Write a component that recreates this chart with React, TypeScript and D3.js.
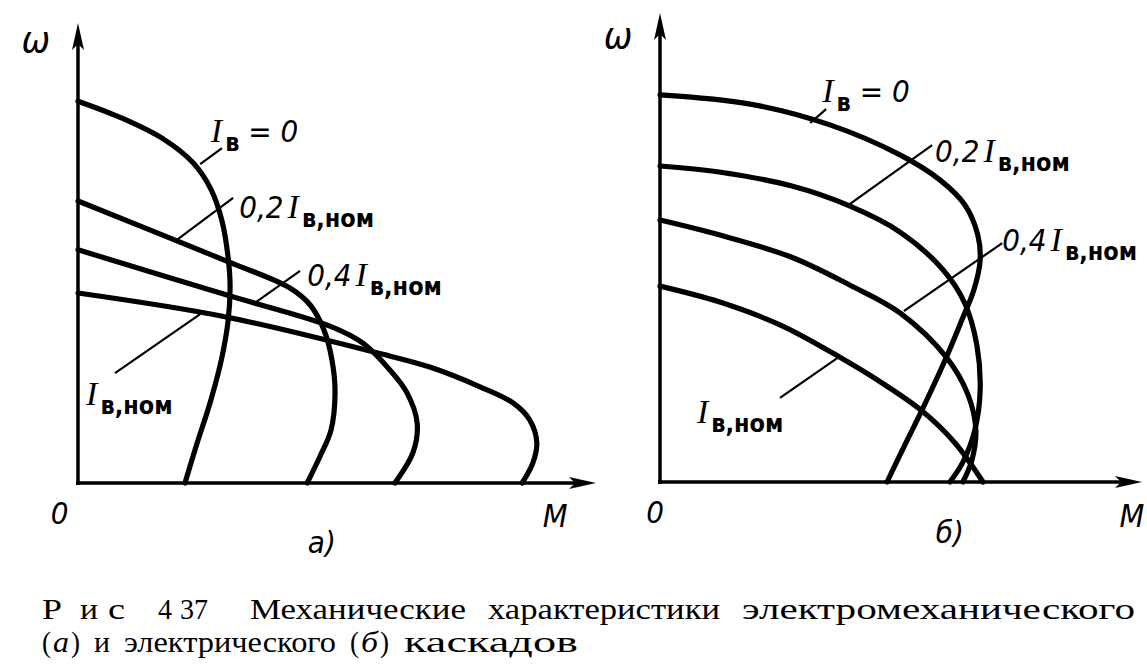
import { useEffect, useRef } from 'react';
import * as d3 from 'd3';

type Pt = [number, number];

// M (torque) and ω (speed), relative units 0..100

// panel а) — electromechanical cascade
const aZero: Pt[] = [
  [0, 83.0], [8.7, 79.3], [16.8, 74.8], [22.7, 69.6], [26.2, 63.9], [28.4, 57.0],
  [29.6, 49.1], [30.0, 42.8], [29.6, 35.2], [28.4, 27.4], [26.2, 18.0], [23.3, 8.0], [21.1, 0],
];
const aPoint2: Pt[] = [
  [0, 61.3], [29.2, 48.3], [41.8, 42.4], [45.8, 38.7], [48.5, 33.3], [50.1, 26.7],
  [50.7, 19.6], [49.9, 11.5], [47.7, 5.7], [45.2, 0],
];
const aPoint4: Pt[] = [
  [0, 50.7], [29.2, 40.9], [49.7, 34.1], [56.2, 30.4], [61.5, 24.6], [64.9, 19.6],
  [66.9, 13.0], [66.1, 6.7], [62.5, 0],
];
const aNom: Pt[] = [
  [0, 41.3], [29.2, 36.1], [59, 28.3], [69.4, 25.2], [79.3, 20.9], [85.8, 17.4],
  [89.1, 13.7], [90.5, 8.7], [89.7, 4.3], [87.6, 0],
];

// panel б) — electrical cascade
const bZero: Pt[] = [
  [0, 83.8], [18.8, 81.8], [35.4, 77.3], [50, 70.8], [58.3, 65.4], [63.5, 60.0],
  [66.2, 53.5], [66.7, 48.1], [65.4, 41.6], [62.9, 35.1], [59.4, 26.4], [54.6, 15.6],
  [51.0, 8.0], [47.3, 0],
];
const bPoint2: Pt[] = [
  [0, 68.4], [12.3, 67.1], [27.3, 64.1], [39.6, 59.7], [50, 54.1], [59.0, 45.9],
  [63.5, 38.7], [66.0, 29.7], [66.7, 19.9], [65.6, 11.3], [63.1, 4.3], [60.4, 0],
];
const bPoint4: Pt[] = [
  [0, 56.7], [12.3, 53.5], [27.3, 48.7], [39.6, 42.6], [50, 36.6], [59.8, 26.8],
  [64.2, 18.8], [65.8, 11.3], [65.0, 4.8], [63.1, 0],
];
const bNom: Pt[] = [
  [0, 42.4], [12.3, 39.0], [25, 34.0], [37.3, 27.1], [46.9, 21.0], [54.8, 15.2],
  [61.5, 8.4], [67.3, 0],
];

// curve labels: text start, leader from -> to, text parts
type Label = { at: Pt; from: Pt; to: Pt; pre: string; sub: string; post: string };

const aLabels: Label[] = [
  { at: [26.2, 74.1], from: [24.1, 69.3], to: [28.4, 72.8], pre: '', sub: 'в', post: ' = 0' },
  { at: [31.8, 57.6], from: [19.7, 53.0], to: [30.6, 62.0], pre: '0,2', sub: 'в,ном', post: '' },
  { at: [45.2, 42.8], from: [35.1, 39.3], to: [43.8, 46.1], pre: '0,4', sub: 'в,ном', post: '' },
  { at: [1.6, 17.0], from: [7.3, 23.9], to: [24.1, 36.7], pre: '', sub: 'в,ном', post: '' },
];
const bLabels: Label[] = [
  { at: [33.8, 82.3], from: [31.3, 77.7], to: [34.6, 80.7], pre: '', sub: 'в', post: ' = 0' },
  { at: [57.3, 69.3], from: [39.6, 60.2], to: [56.7, 72.9], pre: '0,2', sub: 'в,ном', post: '' },
  { at: [71.3, 50.0], from: [50.8, 37.0], to: [71.3, 51.7], pre: '0,4', sub: 'в,ном', post: '' },
  { at: [7.7, 12.8], from: [25.0, 18.2], to: [37.3, 27.1], pre: '', sub: 'в,ном', post: '' },
];

const captionLine1: [string, number, number][] = [
  ['Р', 42, 62], ['и', 80, 98], ['с', 108, 125], ['4', 158, 172], ['37', 180, 208],
  ['Механические', 250, 466], ['характеристики', 488, 720], ['электромеханического', 742, 1135],
];
const captionLine2: [string, number, number][] = [
  ['(', 42, 51], ['а', 53, 69], [')', 71, 80], ['и', 94, 110], ['электрического', 124, 336],
  ['(', 350, 359], ['б', 361, 378], [')', 380, 389], ['каскадов', 404, 578],
];

const W = 1147;
const H = 667;
const sans = '"DejaVu Sans Condensed", "Liberation Sans Narrow", "DejaVu Sans", sans-serif';
const serif = '"Liberation Serif", "DejaVu Serif", serif';

export default function App() {
  const svgRef = useRef<SVGSVGElement>(null);

  useEffect(() => {
    document.body.style.margin = '0';
    if (!svgRef.current) return;
    const svg = d3.select(svgRef.current);
    svg.selectAll('*').remove();
    svg.append('rect').attr('width', W).attr('height', H).attr('fill', '#fff');

    const drawPanel = (
      x: d3.ScaleLinear<number, number>,
      y: d3.ScaleLinear<number, number>,
      curves: Pt[][],
      labels: Label[],
      yTip: number,
      xTip: number,
      marks: { omega: Pt; zero: Pt; m: Pt; name: [string, Pt] },
    ) => {
      const g = svg.append('g');
      const x0 = x(0);
      const y0 = y(0);

      // axes with arrows
      g.append('line').attr('x1', x0).attr('x2', x0).attr('y1', y0 + 2).attr('y2', yTip + 10)
        .attr('stroke', '#000').attr('stroke-width', 3.5);
      g.append('line').attr('x1', x0 - 2).attr('x2', xTip - 10).attr('y1', y0).attr('y2', y0)
        .attr('stroke', '#000').attr('stroke-width', 3.5);
      g.append('path')
        .attr('d', `M${x0},${yTip} L${x0 - 6},${yTip + 27} L${x0},${yTip + 21} L${x0 + 6},${yTip + 27} Z`)
        .attr('fill', '#000');
      g.append('path')
        .attr('d', `M${xTip},${y0} L${xTip - 27},${y0 - 6} L${xTip - 21},${y0} L${xTip - 27},${y0 + 6} Z`)
        .attr('fill', '#000');

      const line = d3.line<Pt>()
        .x(d => x(d[0]))
        .y(d => y(d[1]))
        .curve(d3.curveCatmullRom.alpha(0.5));

      g.selectAll('.curve')
        .data(curves)
        .join('path')
        .attr('class', 'curve')
        .attr('d', d => line(d))
        .attr('fill', 'none')
        .attr('stroke', '#000')
        .attr('stroke-width', 5.2)
        .attr('stroke-linecap', 'round');

      g.selectAll('.leader')
        .data(labels)
        .join('line')
        .attr('class', 'leader')
        .attr('x1', d => x(d.from[0]))
        .attr('y1', d => y(d.from[1]))
        .attr('x2', d => x(d.to[0]))
        .attr('y2', d => y(d.to[1]))
        .attr('stroke', '#000')
        .attr('stroke-width', 2.2);

      labels.forEach(l => {
        const t = g.append('text')
          .attr('x', x(l.at[0]))
          .attr('y', y(l.at[1]))
          .attr('fill', '#000');
        if (l.pre) {
          t.append('tspan').text(l.pre)
            .style('font-family', sans).style('font-style', 'italic').style('font-size', '31px');
          t.append('tspan').text('\u2009').style('font-size', '20px');
        }
        t.append('tspan').text('I')
          .style('font-family', serif).style('font-style', 'italic').style('font-size', '34px');
        t.append('tspan').text(l.sub).attr('dy', 9).attr('dx', 3)
          .style('font-family', sans).style('font-size', '25px').style('font-weight', 'bold');
        if (l.post) {
          t.append('tspan').text(l.post).attr('dy', -9)
            .style('font-family', sans).style('font-style', 'italic').style('font-size', '31px');
        }
      });

      const txt = (s: string, p: Pt, size: number) =>
        g.append('text')
          .attr('x', x(p[0]))
          .attr('y', y(p[1]))
          .attr('text-anchor', 'middle')
          .style('font-family', sans)
          .style('font-style', 'italic')
          .style('font-size', `${size}px`)
          .attr('fill', '#000')
          .text(s);

      txt('ω', marks.omega, 38);
      txt('0', marks.zero, 31);
      txt('M', marks.m, 32);
      txt(marks.name[0], marks.name[1], 31);
    };

    const xA = d3.scaleLinear().domain([0, 100]).range([78, 585]);
    const yA = d3.scaleLinear().domain([0, 100]).range([483, 23]);
    drawPanel(xA, yA, [aZero, aPoint2, aPoint4, aNom], aLabels, 23, 596, {
      omega: [-8.3, 93.7], zero: [-3.6, -9.0], m: [94.1, -9.6], name: ['а)', [48.1, -15.2]],
    });

    const xB = d3.scaleLinear().domain([0, 100]).range([660, 1140]);
    const yB = d3.scaleLinear().domain([0, 100]).range([482, 20]);
    drawPanel(xB, yB, [bZero, bPoint2, bPoint4, bNom], bLabels, 13, 1142, {
      omega: [-8.75, 93.9], zero: [-1.0, -8.9], m: [98.3, -9.7], name: ['б)', [60.4, -13.2]],
    });

    // caption, word by word as set in the book
    const cap = svg.append('g')
      .style('font-family', serif)
      .style('font-size', '30px')
      .attr('fill', '#000');
    const words = (list: [string, number, number][], base: number, italicWords: string[]) =>
      cap.selectAll(null)
        .data(list)
        .join('text')
        .attr('x', d => d[1])
        .attr('y', base)
        .attr('textLength', d => d[2] - d[1])
        .attr('lengthAdjust', 'spacingAndGlyphs')
        .style('font-style', d => (italicWords.includes(d[0]) ? 'italic' : 'normal'))
        .text(d => d[0]);
    words(captionLine1, 619, []);
    words(captionLine2, 652, ['а', 'б']);
  }, []);

  return <svg ref={svgRef} width={W} height={H} style={{ display: 'block' }} />;
}
